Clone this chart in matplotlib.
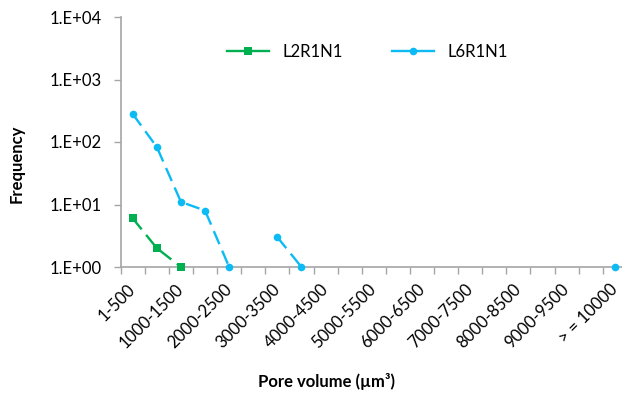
import numpy as np
import matplotlib
matplotlib.use("Agg")
import matplotlib.pyplot as plt
from matplotlib.lines import Line2D
from matplotlib.ticker import FixedLocator, FuncFormatter, NullLocator

plt.rcParams['font.family'] = ['Lato', 'DejaVu Sans']

categories = ["1-500", "500-1000", "1000-1500", "1500-2000", "2000-2500", "2500-3000",
              "3000-3500", "3500-4000", "4000-4500", "4500-5000", "5000-5500", "5500-6000",
              "6000-6500", "6500-7000", "7000-7500", "7500-8000", "8000-8500", "8500-9000",
              "9000-9500", "9500-10000", "> = 10000"]
nan = np.nan
l2r1n1 = [6, 2, 1] + [nan] * 18
l6r1n1 = [280, 83, 11, 8, 1, nan, 3, 1] + [nan] * 12 + [1]
yticks = [1, 10, 100, 1000, 10000]
ytick_labels = ["1.E+00", "1.E+01", "1.E+02", "1.E+03", "1.E+04"]

green = '#00B050'
blue = '#0CBBF4'
axis_gray = '#A6A6A6'
fs = 12

fig = plt.figure(figsize=(6.22, 3.95), dpi=100)
W, H = 622, 395
left, right, top, bottom = 120.7, 626.8, 17, 267
ax = fig.add_axes([left / W, 1 - bottom / H, (right - left) / W, (bottom - top) / H])

x = np.arange(len(categories))
ax.plot(x, l2r1n1, color=green, lw=1.7, dashes=(6, 3), marker='s', ms=6,
        markeredgewidth=0, label='L2R1N1', clip_on=False, zorder=3)
ax.plot(x, l6r1n1, color=blue, lw=1.7, dashes=(6, 3), marker='o', ms=5.5,
        markeredgewidth=0, label='L6R1N1', clip_on=False, zorder=3)

ax.set_yscale('log')
ax.set_ylim(1, 10000)
ax.set_xlim(-0.5, len(categories) - 0.5)
ax.yaxis.set_major_locator(FixedLocator(yticks))
ax.yaxis.set_minor_locator(NullLocator())
ax.yaxis.set_major_formatter(FuncFormatter(lambda v, p: ytick_labels[yticks.index(round(v))] if round(v) in yticks else ""))

ax.set_xticks(x[::2])
ax.set_xticklabels(categories[::2], rotation=45, ha='right', va='center', rotation_mode='anchor')
ax.set_xticks(np.arange(-0.5, len(categories) + 0.5, 1), minor=True)
ax.tick_params(axis='x', which='major', length=0, pad=14, labelsize=fs)
ax.tick_params(axis='x', which='minor', length=5, width=1, color=axis_gray, direction='out')
ax.tick_params(axis='y', which='major', length=5, width=1, color=axis_gray, direction='out',
               labelsize=fs, pad=9)

for s in ['top', 'right']:
    ax.spines[s].set_visible(False)
for s in ['left', 'bottom']:
    ax.spines[s].set_color(axis_gray)
    ax.spines[s].set_linewidth(1.2)

handles = [Line2D([], [], color=green, lw=1.7, marker='s', ms=6, markeredgewidth=0),
           Line2D([], [], color=blue, lw=1.7, marker='o', ms=5.5, markeredgewidth=0)]
fig.legend(handles, ['L2R1N1', 'L6R1N1'], loc='center left',
           bbox_to_anchor=(227 / W, 1 - 52 / H), ncol=2, frameon=False,
           fontsize=fs, handlelength=2.5, handletextpad=0.8, columnspacing=3.0,
           borderpad=0, borderaxespad=0)

fig.text(327 / W, 1 - 381 / H, 'Pore volume (µm³)', ha='center', va='center',
         fontsize=fs, fontweight='bold')
fig.text(17 / W, 1 - 164 / H, 'Frequency', ha='center', va='center', rotation=90,
         fontsize=fs, fontweight='bold')

fig.savefig('out.png', dpi=100)
